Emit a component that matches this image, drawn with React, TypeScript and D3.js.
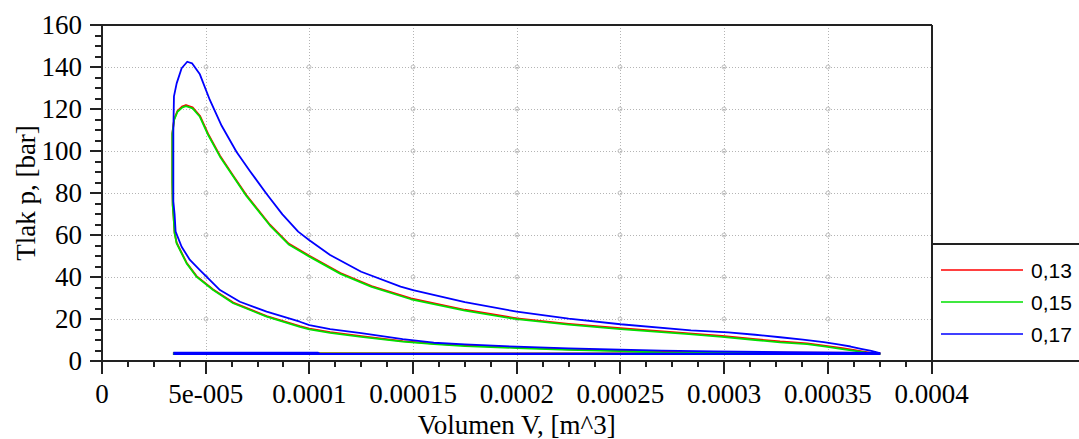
import React from "react";
import * as d3 from "d3";

// ---- data (volume in 1e-5 m^3, pressure in bar) ----
const V_UNIT = 1e-5;

const seriesNames = ["0,13", "0,15", "0,17"];
const seriesColors = ["#ff0000", "#00e000", "#0000ff"];

const cycle013: [number, number][] = [
  [3.42, 3.3], [37.5, 3.3],
  [37.5, 3.8], [33, 4.0], [29.5, 4.2], [27, 4.4], [25, 5.0], [22.5, 5.6], [20, 6.5], [17.5, 7.4], [16, 8.3], [14.5, 9.5], [12.5, 11.8], [11, 13.7], [10, 15.4], [9.54, 16.6], [7.94, 21.4], [6.33, 27.8], [5.36, 34.1], [4.56, 40.4], [4.08, 46.8], [3.6, 56.3], [3.5, 61.1], [3.45, 69.0],
  [3.41, 74.3], [3.39, 85.3], [3.39, 108.4], [3.48, 115.2], [3.64, 119.1], [3.88, 121.3], [4.05, 121.9], [4.37, 120.8], [4.72, 116.8], [5.12, 108.1], [5.69, 97.8], [6.33, 88.2], [6.97, 78.9], [8.1, 64.9], [9.0, 55.9], [10, 50.1], [11.5, 41.9], [13, 35.7], [14.9, 29.8], [17.5, 24.4], [20, 20.3], [22.5, 17.7], [25, 15.6], [28.3, 13.2], [29.9, 11.9], [31.5, 10.4], [32.7, 9.3], [34.0, 8.4], [34.9, 7.2], [35.7, 6.1], [36.3, 5.2], [37.0, 4.0],
  [37.0, 3.6], [3.42, 3.7],
];

const cycle015: [number, number][] = [
  [3.42, 3.3], [37.5, 3.3],
  [37.5, 3.6], [33, 3.8], [29.5, 4.0], [27, 4.1], [25, 4.7], [22.5, 5.3], [20, 6.2], [17.5, 7.1], [16, 8.0], [14.5, 9.2], [12.5, 11.5], [11, 13.4], [10, 15.1], [9.54, 16.3], [7.94, 21.1], [6.33, 27.5], [5.36, 33.8], [4.56, 40.1], [4.08, 46.5], [3.6, 56.0], [3.5, 60.8], [3.45, 68.7],
  [3.41, 74.0], [3.39, 85.0], [3.39, 108.0], [3.48, 114.8], [3.64, 118.7], [3.88, 120.8], [4.05, 121.4], [4.37, 120.3], [4.72, 116.3], [5.12, 107.6], [5.69, 97.3], [6.33, 87.8], [6.97, 78.5], [8.1, 64.5], [9.0, 55.5], [10, 49.7], [11.5, 41.5], [13, 35.3], [14.9, 29.4], [17.5, 24.0], [20, 19.9], [22.5, 17.3], [25, 15.2], [28.3, 12.8], [29.9, 11.5], [31.5, 10.0], [32.7, 8.9], [34.0, 8.0], [34.9, 6.8], [35.7, 5.7], [36.3, 4.8], [37.0, 3.7],
  [37.0, 3.5], [3.42, 3.6],
];

const cycle017: [number, number][] = [
  [3.44, 3.3], [37.5, 3.3],
  [37.5, 3.9], [33, 4.2], [29.5, 4.6], [27, 4.9], [25, 5.4], [22.5, 6.0], [20, 6.8], [17.5, 7.9], [16, 8.7], [14.5, 10.4], [12.5, 13.3], [11, 15.2], [10, 17.1], [9.54, 18.7], [7.94, 23.5], [6.65, 28.2], [5.69, 33.8], [5.05, 40.1], [4.72, 43.3], [4.24, 48.1], [3.84, 54.4], [3.55, 61.6], [3.5, 70.0],
  [3.44, 76.0], [3.44, 109.0], [3.47, 126.0], [3.6, 132.2], [3.84, 139.4], [4.11, 142.5], [4.35, 141.7], [4.72, 136.5], [5.2, 124.3], [5.77, 112.0], [6.49, 99.5], [7.13, 90.5], [7.94, 79.5], [8.7, 69.8], [9.46, 61.6], [10, 57.5], [11, 50.5], [12.5, 42.5], [14.4, 35.4], [15, 33.8], [17.5, 28.0], [20, 23.5], [22.5, 20.2], [25, 17.5], [28.4, 14.6], [30.2, 13.6], [31.5, 12.5], [32.7, 11.3], [33.8, 10.2], [34.8, 9.0], [35.5, 7.9], [36.1, 6.9], [36.6, 5.8], [37.1, 4.8], [37.5, 3.8],
  [37.5, 3.6], [10.5, 3.4], [10.4, 4.0], [3.44, 4.0],
];

const cycles = [cycle013, cycle015, cycle017];

const xTicks = [0, 0.00005, 0.0001, 0.00015, 0.0002, 0.00025, 0.0003, 0.00035, 0.0004];
const xTickLabels = ["0", "5e-005", "0.0001", "0.00015", "0.0002", "0.00025", "0.0003", "0.00035", "0.0004"];
const yTicks = [0, 20, 40, 60, 80, 100, 120, 140, 160];
const yTickLabels = ["0", "20", "40", "60", "80", "100", "120", "140", "160"];

const xTitle = "Volumen V, [m^3]";
const yTitle = "Tlak p, [bar]";

export default function App() {
  const W = 1079, H = 439;
  const left = 102, right = 931.5, top = 25, bottom = 361;
  const x = d3.scaleLinear().domain([0, 0.0004]).range([left, right]);
  const y = d3.scaleLinear().domain([0, 160]).range([bottom, top]);

  const line = d3
    .line<[number, number]>()
    .x((d) => x(d[0] * V_UNIT))
    .y((d) => y(d[1]));

  const xMinor = d3.range(0, 0.0004 + 1e-12, 0.0000125);
  const yMinor = d3.range(0, 160.001, 5);
  const gridX = xTicks.slice(1, -1);
  const gridY = yTicks.slice(1, -1);

  const serif = "'Liberation Serif', 'Times New Roman', serif";
  const axisColor = "#222";

  return (
    <svg width={W} height={H} style={{ position: "absolute", left: 0, top: 0, background: "#fff" }}>
      <rect x={0} y={0} width={W} height={H} fill="#fff" />
      {/* grid */}
      <g stroke="#b4b4b4" strokeWidth={1} strokeDasharray="1 2" shapeRendering="crispEdges">
        {gridX.map((t, i) => (
          <line key={"gx" + i} x1={Math.round(x(t))} x2={Math.round(x(t))} y1={top} y2={bottom} />
        ))}
        {gridY.map((t, i) => (
          <line key={"gy" + i} x1={left} x2={right} y1={Math.round(y(t))} y2={Math.round(y(t))} />
        ))}
      </g>
      <g stroke="#c0c0c0" fill="none" strokeWidth={1}>
        {gridX.map((tx, i) =>
          gridY.map((ty, j) => (
            <circle key={"c" + i + "-" + j} cx={Math.round(x(tx))} cy={Math.round(y(ty))} r={2} />
          ))
        )}
      </g>
      {/* curves */}
      <g fill="none" strokeWidth={1.8} strokeLinejoin="round">
        {cycles.map((c, i) => (
          <path key={"s" + i} d={line(c) || ""} stroke={seriesColors[i]} />
        ))}
      </g>
      {/* frame & axes */}
      <g stroke={axisColor} strokeWidth={2} shapeRendering="crispEdges">
        <line x1={left} x2={left} y1={top} y2={bottom} />
        <line x1={90} x2={right} y1={top} y2={top} />
        <line x1={right} x2={right} y1={top} y2={bottom + 13} />
        <line x1={90} x2={W} y1={bottom} y2={bottom} />
        <line x1={right} x2={W} y1={244} y2={244} />
      </g>
      {/* ticks */}
      <g stroke={axisColor} strokeWidth={2} shapeRendering="crispEdges">
        {xMinor.map((t, i) => {
          const major = i % 4 === 0;
          return <line key={"xt" + i} x1={x(t)} x2={x(t)} y1={bottom} y2={bottom + (major ? 13 : 6)} />;
        })}
        {yMinor.map((t, i) => {
          const major = i % 4 === 0;
          return <line key={"yt" + i} x1={left} x2={left - (major ? 12 : 7)} y1={y(t)} y2={y(t)} />;
        })}
      </g>
      {/* tick labels */}
      <g fontFamily={serif} fontSize={27} fill="#000">
        {xTicks.map((t, i) => (
          <text key={"xl" + i} x={x(t)} y={403} textAnchor="middle">
            {xTickLabels[i]}
          </text>
        ))}
        {yTicks.map((t, i) => (
          <text key={"yl" + i} x={82} y={y(t) + 9} textAnchor="end">
            {yTickLabels[i]}
          </text>
        ))}
      </g>
      {/* axis titles */}
      <text x={(left + right) / 2} y={434} textAnchor="middle" fontFamily={serif} fontSize={27} fill="#000">
        {xTitle}
      </text>
      <text
        transform={`translate(35, ${(top + bottom) / 2}) rotate(-90)`}
        textAnchor="middle"
        fontFamily={serif}
        fontSize={27}
        fill="#000"
      >
        {yTitle}
      </text>
      {/* legend */}
      <g>
        {seriesNames.map((n, i) => {
          const ly = 270 + i * 32;
          return (
            <g key={"lg" + i}>
              <line x1={941} x2={1023} y1={ly} y2={ly} stroke={seriesColors[i]} strokeWidth={1.6} />
              <text x={1031} y={ly + 7.5} fontFamily="'Liberation Sans', Arial, sans-serif" fontSize={21} fill="#000">
                {n}
              </text>
            </g>
          );
        })}
      </g>
    </svg>
  );
}
